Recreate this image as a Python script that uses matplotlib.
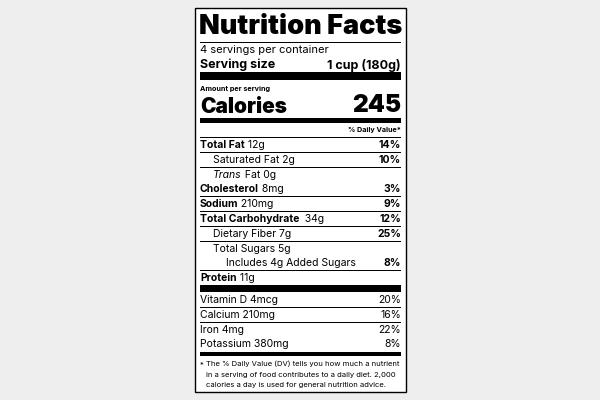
import matplotlib
matplotlib.use("Agg")
import matplotlib.pyplot as plt

plt.rcParams['font.family'] = ['Inter', 'DejaVu Sans']

servings = "4 servings per container"
serving_size = "1 cup (180g)"
calories = "245"
rows = [  # (bold label, normal text, indent, dv, italic)
    ("Total Fat", " 12g", 0, "14%", False),
    ("", "Saturated Fat 2g", 1, "10%", False),
    ("", "Trans Fat 0g", 1, "", True),
    ("Cholesterol", " 8mg", 0, "3%", False),
    ("Sodium", " 210mg", 0, "9%", False),
    ("Total Carbohydrate", "  34g", 0, "12%", False),
    ("", "Dietary Fiber 7g", 1, "25%", False),
    ("", "Total Sugars 5g", 1, "", False),
    ("", "Includes 4g Added Sugars", 2, "8%", False),
    ("Protein", " 11g", 0, "", False),
]
vitamins = [("Vitamin D 4mcg", "20%"), ("Calcium 210mg", "16%"),
            ("Iron 4mg", "22%"), ("Potassium 380mg", "8%")]
footnote = ["The % Daily Value (DV) tells you how much a nutrient",
            "in a serving of food contributes to a daily diet. 2,000",
            "calories a day is used for general nutrition advice."]

fig = plt.figure(figsize=(6, 4), dpi=100, facecolor='#eeeeee')
ax = fig.add_axes([0, 0, 1, 1])
ax.set_xlim(0, 600); ax.set_ylim(400, 0); ax.axis('off')
ax.add_patch(plt.Rectangle((195, 8), 211, 384, facecolor='white', edgecolor='black', lw=1))
L, R = 200, 401
fig.canvas.draw()
inv = ax.transData.inverted()

def right_of(t):
    bb = t.get_window_extent()
    return inv.transform((bb.x1, bb.y0))[0]

def bar(y, h, x0=L):
    ax.add_patch(plt.Rectangle((x0, y), R - x0, h, facecolor='black', lw=0))

ax.text(L - 1, 27, "Nutrition Facts", fontsize=19.5, fontweight='black', va='center', ha='left')
bar(42, 1)
ax.text(L, 50, servings, fontsize=8, va='center')
ax.text(L, 65, "Serving size", fontsize=9, fontweight='bold', va='center')
ax.text(R, 65, serving_size, fontsize=9, fontweight='bold', va='center', ha='right')
bar(72, 8)
ax.text(L, 89, "Amount per serving", fontsize=5.2, fontweight='bold', va='center')
ax.text(L, 107, "Calories", fontsize=15, fontweight='black', va='center')
ax.text(R, 106, calories, fontsize=17.5, fontweight='black', va='center', ha='right')
bar(118, 5)
ax.text(R, 130, "% Daily Value*", fontsize=5.2, fontweight='bold', va='center', ha='right')
bar(137, 0.8)

y = 145
step = 14.8
for i, (b, n, ind, dv, it) in enumerate(rows):
    x = L + ind * 13
    if b:
        t = ax.text(x, y, b, fontsize=7.5, fontweight='bold', va='center')
        ax.text(right_of(t), y, n, fontsize=7.5, va='center')
    elif it:
        w, rest = n.split(" ", 1)
        t = ax.text(x, y, w, fontsize=7.5, style='italic', va='center')
        ax.text(right_of(t), y, " " + rest, fontsize=7.5, va='center')
    else:
        ax.text(x, y, n, fontsize=7.5, va='center')
    if dv:
        ax.text(R, y, dv, fontsize=7.5, fontweight='bold', va='center', ha='right')
    if i < len(rows) - 1:
        x0 = L + 25 if i == 7 else L
        bar(y + 7, 0.8, x0)
    y += step
bar(285, 7)
y = 300
for i, (n, dv) in enumerate(vitamins):
    ax.text(L, y, n, fontsize=7.5, va='center')
    ax.text(R, y, dv, fontsize=7.5, va='center', ha='right')
    if i < len(vitamins) - 1:
        bar(y + 7, 0.8)
    y += step
bar(352, 4)
ax.text(L, 364, "*", fontsize=5.5, va='center')
for j, line in enumerate(footnote):
    ax.text(L + 6, 364 + j * 10.5, line, fontsize=5.5, va='center')

fig.savefig("out.png", dpi=100, facecolor=fig.get_facecolor())
